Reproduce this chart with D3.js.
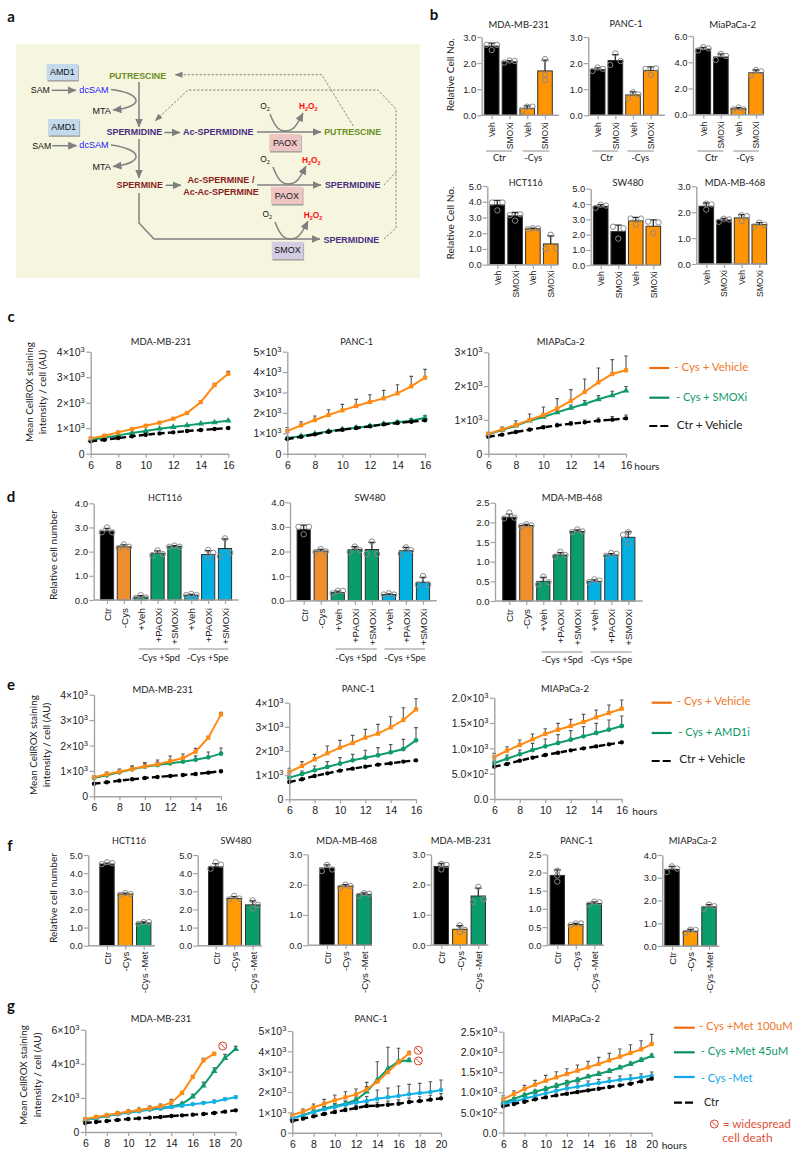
<!DOCTYPE html>
<html><head><meta charset="utf-8">
<script src="https://cdn.jsdelivr.net/npm/d3@7"></script>
<style>
html,body{margin:0;padding:0;background:#fff}
svg{display:block}
text{fill:#222}
</style></head><body>
<svg id="fig" width="800" height="1157"></svg>
<script>
/* ---------- DATA ---------- */
const bTitles=["MDA-MB-231","PANC-1","MiaPaCa-2","HCT116","SW480","MDA-MB-468"];
const bCats=["Veh","SMOXi","Veh","SMOXi"];
const bMeans=[[2.65,2.05,0.27,1.7],[1.75,2.1,0.78,1.72],[5.0,4.4,0.45,3.2],[3.8,3.1,2.28,1.32],[3.85,2.2,2.9,2.55],[2.23,1.7,1.78,1.52]];
const bReps=[
 [[2.7,2.5,2.7],[2.02,2.1,2.08],[0.17,0.33,0.33],[2.15,1.55,1.35]],
 [[1.7,1.83,1.78],[1.93,2.37,2.08],[0.65,0.88,0.8],[1.78,1.55,1.8]],
 [[4.9,5.15,5.05],[4.17,4.63,4.48],[0.4,0.55,0.4],[3.0,3.4,3.3]],
 [[3.95,3.45,3.95],[3.15,2.8,3.2],[2.25,2.32,2.3],[1.0,1.9,1.05]],
 [[3.75,3.95,3.9],[2.52,1.74,2.41],[3.05,2.65,3.05],[2.85,2.1,2.8]],
 [[2.1,2.33,2.3],[1.63,1.75,1.72],[1.65,1.88,1.85],[1.45,1.6,1.52]]];
const bTicks=[[0,1,2,3],[0,1,2,3],[0,2,4,6],[0,1,2,3,4,5],[0,1,2,3,4,5],[0,1,2,3]];
const bGroups=["Ctr","-Cys"];

const dTitles=["HCT116","SW480","MDA-MB-468"];
const dCats=["Ctr","-Cys","+Veh","+PAOXi","+SMOXi","+Veh","+PAOXi","+SMOXi"];
const dMeans=[[2.85,2.2,0.12,1.93,2.22,0.2,1.88,2.13],[2.9,2.02,0.33,2.08,2.08,0.25,2.03,0.75],[2.13,1.92,0.5,1.17,1.77,0.5,1.17,1.62]];
const dReps=[
 [[2.8,3.0,2.8],[2.15,2.3,2.2],[0.08,0.2,0.1],[1.85,2.05,1.9],[2.2,2.25,2.2],[0.2,0.25,0.2],[1.75,2.07,1.95],[1.8,2.55,1.95]],
 [[3.0,2.7,3.0],[1.98,2.1,2.0],[0.3,0.4,0.4],[1.98,2.2,2.05],[1.9,2.4,1.9],[0.25,0.3,0.25],[1.9,2.17,2.05],[0.65,1.0,0.65]],
 [[2.1,2.25,2.12],[1.9,1.95,1.92],[0.42,0.62,0.48],[1.13,1.25,1.17],[1.75,1.82,1.77],[0.48,0.55,0.52],[1.15,1.22,1.2],[1.68,1.75,1.48]]];
const dTicks=[[0,1,2,3,4],[0,1,2,3,4],[0,0.5,1,1.5,2,2.5]];
const dGroups=["-Cys +Spd","-Cys +Spe"];

const fTitles=["HCT116","SW480","MDA-MB-468","MDA-MB-231","PANC-1","MIAPaCa-2"];
const fCats=["Ctr","-Cys","-Cys -Met"];
const fMeans=[[4.5,2.85,1.25],[4.35,2.6,2.25],[2.55,1.95,1.68],[2.6,0.52,1.62],[1.92,0.57,1.15],[3.37,0.65,1.72]];
const fReps=[
 [[4.5,4.6,4.55],[2.8,2.9,2.85],[1.2,1.3,1.3]],
 [[4.25,4.6,4.47],[2.55,2.75,2.6],[2.5,2.05,2.25]],
 [[2.45,2.65,2.5],[1.9,2.0,1.95],[1.63,1.72,1.7]],
 [[2.5,2.68,2.65],[0.65,0.42,0.5],[1.43,1.92,1.52]],
 [[1.75,2.05,1.92],[0.55,0.6,0.6],[1.12,1.2,1.18]],
 [[3.25,3.5,3.4],[0.58,0.72,0.7],[1.63,1.82,1.75]]];
const fTicks=[[0,1,2,3,4,5],[0,1,2,3,4,5],[0,1,2,3],[0,1,2,3],[0,0.5,1,1.5,2,2.5],[0,1,2,3,4]];

const lineTitles=["MDA-MB-231","PANC-1","MIAPaCa-2"];
/* panel c */
const cOrange=[[601,706,837,967,1098,1216,1372,1595,2026,2693,3137],[1111,1389,1650,1895,2124,2337,2533,2712,2957,3300,3725],[592,721,849,997,1145,1333,1560,1826,2112,2359,2468]];
const cOrangeErr=[[20,20,20,25,25,30,30,35,40,70,90],[170,180,196,262,294,326,359,393,425,490,409],[30,69,128,178,237,296,335,385,425,425,424]];
const cGreen=[[536,627,719,810,889,980,1046,1111,1176,1229,1294],[768,860,980,1095,1193,1275,1356,1454,1536,1618,1765],[572,701,829,977,1086,1224,1352,1471,1609,1727,1866]];
const cGreenErr=[[15,15,15,20,20,20,25,25,25,25,30],[40,50,50,60,60,70,70,90,90,100,100],[30,40,50,60,60,70,90,100,110,120,120]];
const cBlack=[[484,549,614,680,745,797,837,889,928,967,1006],[719,833,948,1078,1176,1258,1340,1438,1503,1569,1634],[503,563,642,711,780,839,888,928,977,1007,1046]];
const cBlackErr=[[15,15,15,15,20,20,20,20,25,25,25],[30,40,40,50,50,50,60,70,80,80,90],[30,30,40,40,50,60,60,70,80,90,100]];
const cTicks=[[0,1000,2000,3000,4000],[0,1000,2000,3000,4000,5000],[0,1000,2000,3000]];
const cLegend=["- Cys + Vehicle","- Cys + SMOXi","Ctr + Vehicle"];
/* panel e */
const eOrange=[[748,866,970,1075,1180,1259,1377,1508,1757,2308,3226],[1131,1379,1655,1903,2138,2331,2552,2717,2979,3283,3724],[829,954,1066,1178,1283,1368,1441,1520,1612,1697,1783]];
const eOrangeErr=[[60,92,105,130,144,170,210,157,130,50,80],[152,180,207,304,303,317,345,386,442,510,442],[72,79,98,105,105,125,131,151,145,158,171]];
const eGreen=[[721,826,944,1062,1167,1233,1298,1364,1443,1534,1679],[897,1048,1200,1338,1476,1614,1724,1821,1945,2083,2441],[711,796,882,967,1039,1105,1171,1237,1303,1368,1441]];
const eGreenErr=[[40,60,80,100,110,120,130,140,150,210,223],[110,124,179,221,248,248,304,317,317,400,525],[59,72,85,132,145,165,178,191,190,191,197]];
const eBlack=[[498,551,616,669,721,761,800,839,879,931,984],[717,828,966,1076,1186,1269,1352,1434,1490,1559,1614],[638,691,757,816,868,914,961,1000,1039,1079,1118]];
const eBlackErr=[[15,15,15,20,20,20,20,25,25,25,25],[25,25,30,30,30,35,35,35,40,40,40],[15,15,15,15,15,15,15,15,20,20,20]];
const eTicks=[[0,1000,2000,3000,4000],[0,1000,2000,3000,4000],[0,500,1000,1500,2000]];
const eLegend=["- Cys + Vehicle","- Cys + AMD1i","Ctr + Vehicle"];
/* panel g */
const gOrange=[[762,879,977,1094,1192,1290,1387,1505,1720,2286,3224,4202,4592],[869,1033,1246,1426,1590,1738,1885,2131,2508,2984,3460,3902],[833,957,1081,1188,1287,1370,1452,1535,1617,1700,1790,1881,1972,2063,2195]];
const gOrangeErr=[[50,60,70,90,100,120,130,130,200,100,100,120,60],[80,131,164,213,262,278,263,344,120,100,100,100],[83,83,91,107,132,140,132,140,149,165,174,190,206,214,239]];
const gGreen=[[703,821,938,1055,1172,1270,1348,1427,1485,1642,2072,2717,3576,4338,4866],[705,869,1033,1180,1311,1426,1607,2016,2590,3148,3500,3557],[743,833,932,1015,1089,1163,1238,1304,1386,1452,1526,1609,1700,1799,1898]];
const gGreenErr=[[30,40,50,50,60,60,70,70,80,100,140,210,195,215,155],[40,50,80,100,120,130,150,250,900,1050,650,100],[30,30,40,40,40,50,50,50,50,50,50,50,50,50,50]];
const gBlue=[[703,821,938,1036,1133,1212,1309,1368,1465,1544,1622,1700,1778,1915,2032],[705,852,1000,1148,1262,1377,1475,1557,1672,1738,1803,1885,1951,2000,2098],[710,767,842,908,974,1040,1097,1139,1188,1229,1271,1312,1337,1370,1411]];
const gBlueErr=[[30,30,40,40,50,50,60,60,70,80,80,90,90,80,80],[60,70,100,130,150,170,190,220,426,460,490,490,475,508,490],[40,50,60,70,70,80,80,90,90,90,90,90,90,90,90]];
const gBlack=[[528,586,645,703,762,801,840,879,938,977,1016,1055,1114,1192,1270],[574,689,803,918,1016,1115,1213,1311,1328,1377,1426,1508,1557,1623,1689],[652,710,767,825,875,924,965,1007,1048,1089,1130,1172,1213,1271,1337]];
const gBlackErr=[[15,15,15,15,20,20,20,20,25,25,25,25,30,30,30],[30,40,50,70,90,100,120,150,170,180,190,200,210,220,230],[20,20,20,20,20,20,20,20,20,20,20,20,20,20,20]];
const gTicks=[[0,2000,4000,6000],[0,1000,2000,3000,4000,5000],[0,500,1000,1500,2000,2500]];
const gLegend=["- Cys +Met 100uM","- Cys +Met 45uM","- Cys -Met","Ctr"];
const gDeathNote=["= widespread","cell death"];
const hoursLabel="hours";

/* ---------- LAYOUT ---------- */
const SANS="'Liberation Sans',Arial,sans-serif", CAL="Lato,'Open Sans',sans-serif";
const ORANGE="#ff9505",GREEN="#0b9c6c",BLUE="#00b0e0";
/* widths (px) that each label occupies in the reference; the font size is fitted to them */
const TEXT_W={"MDA-MB-231":60.5,"PANC-1":33,"MiaPaCa-2":47,"MIAPaCa-2":48,"HCT116":34,"SW480":31,"MDA-MB-468":60.7,
 "Mean CellROX staining":100,"intensity / cell (AU)":84.7,"Relative Cell No.":73,"Relative cell number":90,
 "- Cys + Vehicle":74,"- Cys + SMOXi":71.3,"Ctr + Vehicle":66,"- Cys + AMD1i":71.7,"- Cys +Met 100uM":93.7,"- Cys +Met 45uM":87.7,"- Cys -Met":52,
 "= widespread":68.3,"cell death":50.3,"hours":25.2,"Ctr":12.7,"-Cys":17.7,"-Cys +Spd":41.7,"-Cys +Spe":41.7,
 "PUTRESCINE":57,"SPERMIDINE":55.7,"Ac-SPERMIDINE":70.7,"SPERMINE":46.3,"Ac-SPERMINE /":67,"Ac-Ac-SPERMINE":75.7,
 "SAM":19,"dcSAM":29.3,"MTA":18.3,"AMD1":24.7,"PAOX":24.3,"SMOX":26.3};
const svg=d3.select("#fig");
const root=svg.append("g");
function txt(x,y,s,o={}){
  const t=root.append("text").attr("x",x).attr("y",y).attr("dy",".35em")
   .attr("text-anchor",o.a||"middle").attr("font-family",o.f||CAL).attr("font-size",o.s||10.5)
   .attr("font-weight",o.w||400).style("fill",o.c||"#222").attr("transform",o.r?`rotate(${o.r} ${x} ${y})`:null).text(s);
  const target=o.fit||TEXT_W[s];
  if(target){const len=t.node().getComputedTextLength();if(len>0)t.attr("font-size",(o.s||10.5)*target/len);}
  return t;
}
const AX="#a3a3a3";
function styleAxis(g){
  g.selectAll(".domain").attr("stroke",AX).attr("stroke-width",1.4);
  g.selectAll(".tick line").attr("stroke",AX).attr("stroke-width",1.2);
}
/* ---- bar panel ---- */
function barPanel(fr,cats,means,reps,ticks,colors,o){
  const g=root.append("g");
  const x=d3.scaleLinear().domain([0,cats.length-1]).range([fr.c0,fr.cN]);
  const y=d3.scaleLinear().domain([0,ticks[ticks.length-1]]).range([fr.bot,fr.top]);
  const bw=o.bw;
  g.selectAll("rect").data(means).join("rect")
   .attr("x",(d,i)=>x(i)-bw/2).attr("width",bw).attr("y",d=>y(d)).attr("height",d=>fr.bot-y(d))
   .attr("fill",(d,i)=>colors[i]).attr("stroke","#303030").attr("stroke-width",1);
  // error bars from the replicates
  means.forEach((m,i)=>{
    const sd=d3.deviation(reps[i]);const yt=y(m+sd);
    g.append("path").attr("d",`M${x(i)},${y(m)}V${yt}M${x(i)-3.5},${yt}h7`).attr("stroke","#2a2a2a").attr("stroke-width",1.3).attr("fill","none");
    reps[i].forEach((v,k)=>{
      const overlap=reps[i].some((w,j)=>j!==k&&Math.abs(y(w)-y(v))<4.5);
      g.append("circle").attr("cx",x(i)+(overlap?(k-1)*5.2:0)).attr("cy",y(v)).attr("r",2.7)
       .attr("fill","none").attr("stroke","#8a8a8a").attr("stroke-width",1);
    });
  });
  const ya=d3.axisLeft(y).tickValues(ticks).tickFormat(d3.format(".1f")).tickSize(4.5).tickPadding(1).tickSizeOuter(0);
  const gy=g.append("g").attr("transform",`translate(${fr.ax},0)`).call(ya);
  gy.selectAll("text").attr("font-family",SANS).attr("font-size",o.ts).style("fill","#222");
  styleAxis(gy);
  const xa=d3.axisBottom(x).tickValues(d3.range(cats.length)).tickFormat(i=>cats[i]).tickSize(4).tickSizeOuter(0);
  const gx=g.append("g").attr("transform",`translate(0,${fr.bot})`).call(xa);
  gx.select(".domain").attr("d",`M${fr.ax},0H${fr.end}`);
  gx.selectAll("text").attr("font-family",SANS).attr("font-size",o.ls).style("fill","#222")
    .attr("text-anchor","end").attr("transform","rotate(-90)").attr("x",-(o.gap)).attr("y",0).attr("dy",".35em");
  styleAxis(gx);
}
/* ---- line panel ---- */
function sciFmt(v,dec){
  if(v===0) return {m:dec?"0.0":"0"};
  const e=Math.floor(Math.log10(v)+1e-9);
  return {m:(v/Math.pow(10,e)).toFixed(dec)+"×10",e:e};
}
const SYM={square:d3.symbolSquare,triangle:d3.symbolTriangle,circle:d3.symbolCircle};
function linePanel(fr,xMax,series,ticks,dec){
  const g=root.append("g");
  const x=d3.scaleLinear().domain([6,xMax]).range([fr.ax,fr.xEnd]);
  const y=d3.scaleLinear().domain([0,ticks[ticks.length-1]]).range([fr.bot,fr.top]);
  series.forEach(s=>{
    s.v.forEach((v,i)=>{
      const yt=y(v+s.e[i]);const xx=x(6+i);
      g.append("path").attr("d",`M${xx},${y(v)}V${yt}M${xx-1.8},${yt}h3.6`).attr("stroke","#555").attr("stroke-width",1.1).attr("fill","none");
    });
  });
  const ln=d3.line().x((d,i)=>x(6+i)).y(d=>y(d));
  series.forEach(s=>{
    g.append("path").attr("d",ln(s.v)).attr("fill","none").attr("stroke",s.c).attr("stroke-width",s.w)
      .attr("stroke-dasharray",s.dash||null);
    const sym=d3.symbol().type(SYM[s.m]).size(s.sz);
    s.v.forEach((v,i)=>g.append("path").attr("d",sym()).attr("transform",`translate(${x(6+i)},${y(v)})`).attr("fill",s.c));
  });
  const ya=d3.axisLeft(y).tickValues(ticks).tickFormat("").tickSize(4.5).tickPadding(1.5).tickSizeOuter(0);
  const gy=g.append("g").attr("transform",`translate(${fr.ax},0)`).call(ya);
  styleAxis(gy);
  gy.selectAll(".tick").append("text").attr("x",-6).attr("dy",".35em").attr("text-anchor","end")
    .attr("font-family",SANS).attr("font-size",10.5).style("fill","#222")
    .each(function(d){
      const f=sciFmt(d,dec),t=d3.select(this);
      t.append("tspan").text(f.m);
      if(f.e!==undefined) t.append("tspan").attr("dy","-4").attr("font-size",7.5).text(f.e);
    });
  const xa=d3.axisBottom(x).tickValues(d3.range(6,xMax+1,2)).tickFormat(d3.format("d")).tickSize(4).tickPadding(3.5).tickSizeOuter(0);
  const gx=g.append("g").attr("transform",`translate(0,${fr.bot})`).call(xa);
  gx.selectAll("text").attr("font-family",SANS).attr("font-size",10.5).style("fill","#222");
  styleAxis(gx);
}
function noEntry(cx,cy){
  const g=root.append("g").attr("transform",`translate(${cx},${cy})`).attr("fill","none").attr("stroke","#d8442e").attr("stroke-width",1);
  g.append("circle").attr("r",4);
  g.append("path").attr("d","M-2.8,-2.8L2.8,2.8");
}
function legendRow(x0,x1,y,color,dash){
  root.append("line").attr("x1",x0).attr("x2",x1).attr("y1",y).attr("y2",y).attr("stroke",color).attr("stroke-width",2.2).attr("stroke-dasharray",dash||null);
}
const LO="#f0782a",LG="#0f9a68",LB="#12a5ea",LN="#e0503a";

/* ---------- PANEL LETTERS ---------- */
[["a",11,17],["b",434,15],["c",11,317],["d",11,497],["e",11,685],["f",10,846],["g",11,1006]]
 .forEach(d=>txt(d[1],d[2],d[0],{s:15,w:700,f:"Lato,sans-serif",c:"#111"}));

/* ---------- PANEL A : pathway ---------- */
(function(){
  const defs=svg.append("defs");
  const mk=(id,w,h,col)=>defs.append("marker").attr("id",id).attr("viewBox",`0 0 ${w} ${h}`).attr("refX",w-0.5).attr("refY",h/2)
    .attr("markerWidth",w).attr("markerHeight",h).attr("markerUnits","userSpaceOnUse").attr("orient","auto")
    .append("path").attr("d",`M0,0L${w},${h/2}L0,${h}Z`).attr("fill",col);
  mk("arr",9,8,"#7f7f7f"); mk("arrD",8,6,"#7f7f7f");
  root.append("rect").attr("x",16).attr("y",44).attr("width",404).attr("height",234).attr("fill","#f6f6e0");
  const GR="#808080";
  const solid=(d,m=true)=>root.append("path").attr("d",d).attr("fill","none").attr("stroke",GR).attr("stroke-width",1.5).attr("marker-end",m?"url(#arr)":null);
  const dash=(d,m)=>root.append("path").attr("d",d).attr("fill","none").attr("stroke","#7a7a7a").attr("stroke-width",0.9).attr("stroke-dasharray","2.4,1.6").attr("marker-end",m?"url(#arrD)":null);
  const box=(x,y,w,h,c,s)=>{
    root.append("rect").attr("x",x+0.8).attr("y",y+1.6).attr("width",w).attr("height",h).attr("fill","#a6a6a0");
    root.append("rect").attr("x",x).attr("y",y).attr("width",w).attr("height",h).attr("fill",c);
    txt(x+w/2,y+h/2,s,{f:SANS,s:8.4,c:"#111"});
  };
  const P="#4a2d82",GN="#6a8f24",MR="#8a1c22",BL="#2222ff",RD="#ff0d0d";
  const t=(x,y,s,c,w)=>txt(x,y,s,{f:SANS,s:8.3,c:c||"#111",w:w||400});
  solid("M51.7,90.3H76");solid("M52.3,145.7H76.7");
  solid("M111,89.5C142,93 146,107 113,110");solid("M111,145C142,149 146,163 113,166.5");
  solid("M139,82V127");solid("M139,139V178");
  solid("M164.3,132.5H180");solid("M165.7,185.3H181");
  solid("M257,132H321");solid("M257,185H321");
  solid("M139,193V223L154,239H320");
  const o2=(dx,dy)=>solid(`M${270+dx},${114+dy}C${276+dx},${130+dy} ${281+dx},${131+dy} ${285+dx},${131+dy}C${293+dx},${131+dy} ${296+dx},${127+dy} ${303+dx},${113+dy}`);
  o2(0,0);o2(3,53);o2(5,108);
  dash("M353.3,126L321.7,74.7H175",true);
  dash("M384,239L396,228V109L378,90H188L155,121",true);
  dash("M384,185L396,172",false);
  box(46.7,64,31.3,16,"#c4d9ec","AMD1");box(48,119,31.3,16.3,"#c4d9ec","AMD1");
  box(269.3,134,31.7,17,"#eec5c3","PAOX");box(271,186.7,31.7,17.3,"#eec5c3","PAOX");box(271.7,241.7,31.6,17.3,"#d3cde4","SMOX");
  t(40.3,90.3,"SAM");t(41.7,145.7,"SAM");t(94,90,"dcSAM",BL);t(94,145.3,"dcSAM",BL);
  t(101.7,111.3,"MTA");t(101.7,167,"MTA");
  t(137.7,75.7,"PUTRESCINE",GN,700);t(134.3,132.3,"SPERMIDINE",P,700);t(218.3,132.3,"Ac-SPERMIDINE",P,700);
  t(352.7,132,"PUTRESCINE",GN,700);t(139.7,185.3,"SPERMINE",MR,700);
  t(221,180,"Ac-SPERMINE /",MR,700);t(221,192,"Ac-Ac-SPERMINE",MR,700);
  t(352.7,184.7,"SPERMIDINE",P,700);t(351.3,240,"SPERMIDINE",P,700);
  const chem=(x,y,parts,c,w)=>{
    const T=root.append("text").attr("x",x).attr("y",y).attr("dy",".35em").attr("text-anchor","middle").attr("font-family",SANS).attr("font-size",8.3).attr("font-weight",w).style("fill",c);
    parts.forEach(p=>{
      if(p[1]) T.append("tspan").attr("dy",1.8).attr("font-size",5.5).text(p[0]);
      else T.append("tspan").attr("dy",p[2]?-1.8:0).text(p[0]);
    });
  };
  [[265,108.7],[265,161.7],[267.3,216.7]].forEach(p=>chem(p[0],p[1],[["O"],["2",1]],"#111",400));
  [[308.3,109.3],[311.3,163],[313,218]].forEach(p=>chem(p[0],p[1],[["H"],["2",1],["O",0,1],["2",1]],RD,700));
})();

/* ---------- PANEL B ---------- */
const bFrames=[
 {ax:481.7,end:559,c0:491.7,cN:545,top:37,bot:115.3},
 {ax:588.3,end:665,c0:597.7,cN:650.7,top:37,bot:115.3},
 {ax:693,end:764,c0:703.3,cN:756,top:36,bot:114.7},
 {ax:487.3,end:558,c0:497.3,cN:550.7,top:186,bot:264.7},
 {ax:590.7,end:661,c0:600.7,cN:653.3,top:188.7,bot:265.3},
 {ax:696.3,end:767.7,c0:706.3,cN:759.3,top:186.3,bot:264}];
const bColors=["#000","#000",ORANGE,ORANGE];
bFrames.forEach((fr,i)=>barPanel(fr,bCats,bMeans[i],bReps[i],bTicks[i],bColors,{bw:14.6,ts:9.4,ls:8.5,gap:i<3?7:6}));
[[518.7,24.3],[626,24.3],[732.7,24.3],[525.7,183],[628,183],[735,183]].forEach((p,i)=>txt(p[0],p[1],bTitles[i]));
[[450,74.7],[450,223]].forEach(p=>txt(p[0],p[1],"Relative Cell No.",{r:-90}));
function groupRule(x0,x1,y,label,lx,ly){
  root.append("line").attr("x1",x0).attr("x2",x1).attr("y1",y).attr("y2",y).attr("stroke","#8c8c8c").attr("stroke-width",1);
  txt(lx,ly,label);
}
[[486,512,499.3,522.7,549.3,533.3],[592.3,618.3,606.7,627.3,653.7,640.3],[697.3,723.3,711.3,733.3,758.7,745]]
 .forEach(r=>{groupRule(r[0],r[1],151,bGroups[0],r[2],157.7);groupRule(r[3],r[4],151,bGroups[1],r[5],157.7);});

/* ---------- PANEL C ---------- */
const cFrames=[{ax:90.7,xEnd:228.3,top:351.7,bot:453.7},{ax:287.3,xEnd:425,top:351.7,bot:453.7},{ax:488.3,xEnd:626,top:352.3,bot:453.7}];
const DASH="6.5,3.2";
const BLK_SZ=15;
cFrames.forEach((fr,i)=>linePanel(fr,16,[
  {v:cGreen[i],e:cGreenErr[i],c:"#0f9b6c",w:2,m:"triangle",sz:18},
  {v:cBlack[i],e:cBlackErr[i],c:"#000",w:2.4,m:"circle",sz:BLK_SZ,dash:DASH},
  {v:cOrange[i],e:cOrangeErr[i],c:"#ff8a14",w:2,m:"square",sz:18}],cTicks[i],0));
[[161,341.7],[356.7,341.7],[560.7,342]].forEach((p,i)=>txt(p[0],p[1],lineTitles[i]));
txt(30,392,"Mean CellROX staining",{r:-90});txt(42.7,392,"intensity / cell (AU)",{r:-90});
legendRow(649.3,669.3,368,"#f06c10");legendRow(649.3,669.3,397.7,"#0c8f5e");legendRow(649.3,669.3,426,"#000","8,3");
txt(674.3,367,cLegend[0],{a:"start",c:LO});txt(676,397,cLegend[1],{a:"start",c:LG});txt(676.7,425,cLegend[2],{a:"start"});
txt(634.3,466,hoursLabel,{a:"start"});

/* ---------- PANEL D ---------- */
const dFrames=[{ax:93.7,end:238.7,c0:107,cN:225,top:503.3,bot:600},{ax:290,end:436.7,c0:303.7,cN:423,top:502.3,bot:600.7},{ax:495,end:642.7,c0:509.3,cN:628.3,top:502.7,bot:601}];
const dOr="#ee8e2c";
const dColors=["#000",dOr,GREEN,GREEN,GREEN,BLUE,BLUE,BLUE];
dFrames.forEach((fr,i)=>barPanel(fr,dCats,dMeans[i],dReps[i],dTicks[i],dColors,{bw:13.2,ts:9.6,ls:9.8,gap:8}));
[[165,497.7],[370,497.7],[572,497.7]].forEach((p,i)=>txt(p[0],p[1],dTitles[i]));
txt(53.3,555,"Relative cell number",{r:-90});
[[138.7,180,159.3,188.3,228.3,207.7,649,657.7],[335.7,376.7,356,384.3,425,405,649,657.7],[541.7,582.7,562.3,590.7,631.7,611.3,652,659.5]]
 .forEach(r=>{groupRule(r[0],r[1],r[6],dGroups[0],r[2],r[7]);groupRule(r[3],r[4],r[6],dGroups[1],r[5],r[7]);});

/* ---------- PANEL E ---------- */
const eFrames=[{ax:94,xEnd:221,top:694.7,bot:796.3},{ax:289.3,xEnd:416,top:702.7,bot:799.3},{ax:494.3,xEnd:621.7,top:697.7,bot:799}];
eFrames.forEach((fr,i)=>linePanel(fr,16,[
  {v:eGreen[i],e:eGreenErr[i],c:"#0f9b6c",w:2,m:"circle",sz:18},
  {v:eBlack[i],e:eBlackErr[i],c:"#000",w:2.4,m:"circle",sz:BLK_SZ,dash:DASH},
  {v:eOrange[i],e:eOrangeErr[i],c:"#ff8a14",w:2,m:"square",sz:18}],eTicks[i],i==2?1:0));
[[162.7,689.3],[358.3,689.3],[565,689]].forEach((p,i)=>txt(p[0],p[1],lineTitles[i]));
txt(34,745,"Mean CellROX staining",{r:-90});txt(46.7,745,"intensity / cell (AU)",{r:-90});
legendRow(651.7,671.7,702.7,"#f06c10");legendRow(651.7,671.7,733,"#0c8f5e");legendRow(651.7,671.7,761,"#000","8,3");
txt(676.7,701,eLegend[0],{a:"start",c:LO});txt(678.3,731.7,eLegend[1],{a:"start",c:LG});txt(679.3,759.3,eLegend[2],{a:"start"});
txt(632.3,811.7,hoursLabel,{a:"start"});

/* ---------- PANEL F ---------- */
const fFrames=[
 {ax:88.3,end:155,c0:107,cN:143.7,top:855,bot:945.7},
 {ax:197.7,end:262,c0:215.7,cN:252.7,top:855,bot:945.7},
 {ax:307.7,end:371.7,c0:327,cN:364,top:854.3,bot:945.3},
 {ax:431,end:488.3,c0:441.3,cN:478.3,top:854.3,bot:945},
 {ax:547,end:604,c0:557.3,cN:594.3,top:854.3,bot:945.3},
 {ax:662.3,end:719.3,c0:672,cN:709,top:855,bot:946}];
const fColors=["#000","#ff9a05",GREEN];
fFrames.forEach((fr,i)=>barPanel(fr,fCats,fMeans[i],fReps[i],fTicks[i],fColors,{bw:14.4,ts:9.4,ls:9.6,gap:6}));
[[129,841],[236,841],[346.7,841],[461,841],[576.7,841],[692.7,841]].forEach((p,i)=>txt(p[0],p[1],fTitles[i]));
txt(53.3,898,"Relative cell number",{r:-90});

/* ---------- PANEL G ---------- */
const gFrames=[{ax:85.3,xEnd:235.7,top:1029.7,bot:1132},{ax:292.3,xEnd:441,top:1031,bot:1132.7},{ax:503.3,xEnd:651.7,top:1031.7,bot:1132.7}];
gFrames.forEach((fr,i)=>linePanel(fr,20,[
  {v:gGreen[i],e:gGreenErr[i],c:"#0f9b6c",w:2,m:"triangle",sz:18},
  {v:gBlue[i],e:gBlueErr[i],c:"#12b0e4",w:2,m:"circle",sz:16},
  {v:gBlack[i],e:gBlackErr[i],c:"#000",w:2.4,m:"circle",sz:BLK_SZ,dash:DASH},
  {v:gOrange[i],e:gOrangeErr[i],c:"#ff8a14",w:2,m:"square",sz:18}],gTicks[i],i==2?1:0));
[[161,1019],[371,1019],[576,1019]].forEach((p,i)=>txt(p[0],p[1],lineTitles[i]));
txt(24,1075,"Mean CellROX staining",{r:-90});txt(37.3,1075,"intensity / cell (AU)",{r:-90});
noEntry(222.7,1046);noEntry(418.3,1050.3);noEntry(418.3,1061);
legendRow(674,694.7,1027.7,"#f06c10");legendRow(674,694.7,1052.3,"#0c8f5e");legendRow(674,694.7,1077,"#12a5ea");legendRow(674,694,1102.7,"#000","8,3");
txt(699,1025.7,gLegend[0],{a:"start",c:LO});txt(700.7,1051,gLegend[1],{a:"start",c:LG});
txt(700.7,1077.7,gLegend[2],{a:"start",c:LB});txt(704,1102,gLegend[3],{a:"start",fit:15});
noEntry(714.3,1124);
txt(722.7,1124,gDeathNote[0],{a:"start",c:LN});txt(722.3,1137.7,gDeathNote[1],{a:"start",c:LN});
txt(661.7,1145,hoursLabel,{a:"start"});
</script>
</body></html>
